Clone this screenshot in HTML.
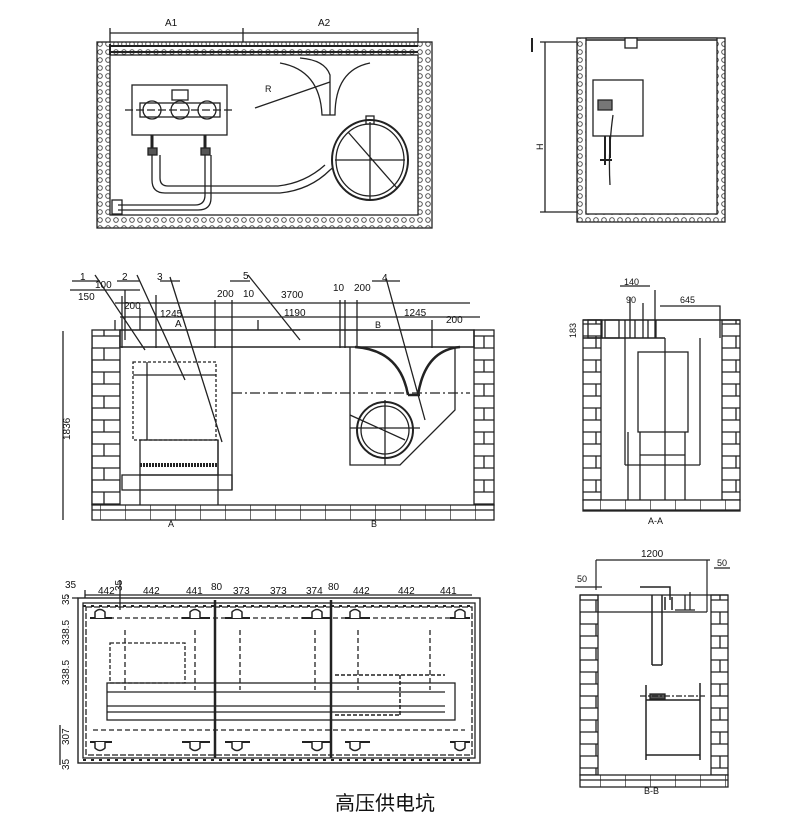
<!DOCTYPE html>
<html><head><meta charset="utf-8"><style>
html,body{margin:0;padding:0;background:#fff;}
svg{display:block;}
text{font-family:"Liberation Sans","Noto Sans CJK SC",sans-serif;fill:#111;}
</style></head><body>
<svg width="800" height="834" viewBox="0 0 800 834" xmlns="http://www.w3.org/2000/svg">
<defs>
<pattern id="dots" width="8" height="8" patternUnits="userSpaceOnUse">
<rect width="8" height="8" fill="#fff"/><circle cx="4" cy="4" r="2.3" fill="none" stroke="#444" stroke-width="0.9"/>
</pattern>
<pattern id="brickV" width="28" height="24" patternUnits="userSpaceOnUse">
<rect width="28" height="24" fill="#fff"/>
<path d="M0 0H28M0 12H28M0 24H28M8 0V12M20 12V24" stroke="#222" stroke-width="1.3" fill="none"/>
</pattern>
<pattern id="brickH" width="25" height="15" patternUnits="userSpaceOnUse">
<rect width="25" height="15" fill="#fff"/>
<path d="M0 0H25M0 15H25M0 0V15" stroke="#222" stroke-width="1.3" fill="none"/>
</pattern>
</defs>
<g stroke="#222" fill="none" stroke-width="1.3">
<!-- ===== top-left plan ===== -->
<path d="M110 33H418M110 28V42M243 28V50M418 28V42" />
<rect x="97" y="42" width="335" height="186" fill="url(#dots)"/>
<rect x="110" y="55" width="308" height="160" fill="#fff"/>
<path d="M110 46H418M110 52H418M110 44V55" stroke-width="2"/>
<rect x="132" y="85" width="95" height="50" fill="#fff"/>
<rect x="172" y="90" width="16" height="10"/>
<path d="M125 110H235" stroke-dasharray="8 3"/>
<circle cx="152" cy="110" r="9"/><circle cx="180" cy="110" r="9"/><circle cx="207" cy="110" r="9"/>
<rect x="140" y="103" width="80" height="14" />
<path d="M152 135V150M205 135V150" stroke-width="3"/>
<rect x="148" y="148" width="9" height="7" fill="#555"/><rect x="201" y="148" width="9" height="7" fill="#555"/>
<path d="M152 155V180Q152 193 165 193H280Q310 190 330 170L345 158M160 155V178Q160 186 168 186H278Q305 183 325 165"/>
<path d="M205 155V195Q205 205 195 205H118M211 155V198Q211 210 198 210H118"/>
<rect x="112" y="200" width="10" height="14"/>
<path d="M280 63Q320 70 322 115H330V75Q325 60 300 58M370 63Q335 70 335 115H328"/>
<path d="M255 108L330 82"/>
<text x="265" y="92" font-size="9" stroke="none">R</text>
<ellipse cx="370" cy="160" rx="38" ry="40" fill="#fff" stroke-width="2"/>
<ellipse cx="370" cy="160" rx="34" ry="36"/>
<path d="M335 160H405M370 122V200M348 132L397 188"/>
<rect x="366" y="116" width="8" height="8"/>
<text x="165" y="26" font-size="10" stroke="none">A1</text>
<text x="318" y="26" font-size="10" stroke="none">A2</text>
<!-- ===== top-right section ===== -->
<path d="M545 42V212M540 42H580M540 212H580"/>
<path d="M532 38V52" stroke-width="2"/>
<text x="543" y="150" font-size="9" stroke="none" transform="rotate(-90 543 150)">H</text>
<rect x="577" y="38" width="148" height="184" fill="url(#dots)"/>
<rect x="586" y="38" width="131" height="176" fill="#fff"/>
<path d="M586 40H717" stroke-width="1.5"/>
<rect x="625" y="38" width="12" height="10" fill="#fff"/>
<rect x="593" y="80" width="50" height="56" fill="#fff"/>
<path d="M598 100H612V110H598Z" fill="#777"/>
<path d="M605 136V165M610 136V158M600 160H612" stroke-width="2"/>
<path d="M613 115Q608 150 610 185" />
<!-- ===== middle-left ===== -->
<path d="M92 348V505M95 290H116M70 290H140M125 290V340" />
<rect x="92" y="330" width="28" height="175" fill="url(#brickV)"/>
<rect x="474" y="330" width="20" height="175" fill="url(#brickV)"/>
<rect x="92" y="505" width="402" height="15" fill="url(#brickH)"/>
<rect x="120" y="330" width="354" height="17" stroke-width="1.5"/>
<path d="M120 317H480M115 303H470M115 320V330" />
<path d="M122 296V348M140 308V330M156 295V348M215 300V348M232 300V348M258 320V330M340 300V348M345 300V348M357 300V348M432 320V348" stroke-width="1.3"/>
<path d="M63 331V520" /><text x="70" y="440" font-size="10" stroke="none" transform="rotate(-90 70 440)">1836</text>
<rect x="133" y="362" width="83" height="78" stroke-dasharray="3 2"/>
<path d="M147 362V440M133 375H216"/>
<rect x="140" y="440" width="78" height="35"/>
<path d="M140 465H218" stroke-dasharray="2 1" stroke-width="4"/>
<rect x="122" y="475" width="110" height="15"/>
<path d="M140 475V505M218 440V505M232 347V490"/>
<path d="M232 393H470" stroke-dasharray="10 3 2 3"/>
<path d="M350 347V465H400L455 410V347"/>
<path d="M355 347Q400 350 408 395M418 395Q425 350 460 347M408 395H420" stroke-width="2.5"/>
<circle cx="385" cy="430" r="28" stroke-width="2"/><circle cx="385" cy="430" r="24"/>
<path d="M350 428H420M385 400V465M350 415L405 440"/>
<path d="M95 275L145 350M137 275L185 380M170 277L222 442M248 275L300 340M386 278L425 420"/>
<path d="M72 281H100M117 281H140M160 281H180M230 281H250M372 281H400"/>
<g stroke="none" font-size="10">
<text x="80" y="280">1</text><text x="122" y="280">2</text><text x="157" y="280">3</text><text x="243" y="279">5</text><text x="382" y="281">4</text>
<text x="95" y="288">100</text><text x="78" y="300">150</text><text x="124" y="309">200</text><text x="160" y="317">1245</text><text x="175" y="327">A</text>
<text x="217" y="297">200</text><text x="243" y="297">10</text><text x="281" y="298">3700</text><text x="284" y="316">1190</text>
<text x="333" y="291">10</text><text x="354" y="291">200</text><text x="404" y="316">1245</text><text x="446" y="323">200</text>
<text x="375" y="328" font-size="9">B</text><text x="168" y="527" font-size="9">A</text><text x="371" y="527" font-size="9">B</text>
</g>
<!-- ===== middle-right A-A ===== -->
<rect x="583" y="320" width="18" height="180" fill="url(#brickV)"/>
<rect x="722" y="320" width="18" height="180" fill="url(#brickV)"/>
<rect x="583" y="500" width="157" height="11" fill="url(#brickH)"/>
<path d="M583 320H740M583 338H665" stroke-width="1.5"/>
<path d="M655 290V338M630 297V338M643 303V338M660 306H720V338M650 286H620"/>
<rect x="588" y="320" width="14" height="18"/><rect x="605" y="320" width="14" height="18"/>
<path d="M625 320V338M635 320V338M648 320V338M656 320V338"/>
<rect x="638" y="352" width="50" height="80"/>
<path d="M625 338V465M700 338V465M625 465H700M640 432V500M685 432V500M640 455H685M628 432V500M665 338V500" />
<g stroke="none" font-size="9">
<text x="624" y="285">140</text><text x="626" y="303">90</text><text x="680" y="303">645</text><text x="576" y="338" transform="rotate(-90 576 338)">183</text>
<text x="648" y="524">A-A</text></g>
<!-- ===== bottom-left plan ===== -->
<rect x="78" y="598" width="402" height="165" stroke-width="1.4"/>
<rect x="83" y="603" width="392" height="155"/>
<rect x="86" y="607" width="386" height="148" stroke-dasharray="6 2"/>
<path d="M83 606H472M83 760H472" stroke-dasharray="3 5" stroke-width="2"/>
<path d="M215 600V758M331 600V758" stroke-width="2.5"/>
<path d="M93 618H465M93 730H465" stroke-dasharray="5 3"/>
<rect x="107" y="683" width="348" height="37"/>
<path d="M107 692H445M107 706H445M107 712H445"/>
<rect x="110" y="643" width="75" height="40" stroke-dasharray="4 2"/>
<path d="M335 675H445M400 675V715M335 715H400" stroke-dasharray="4 2" stroke-width="1.5"/>
<path d="M125 630V690M195 630V690M240 630V690M315 630V690M358 630V690M430 630V690" stroke-dasharray="5 3"/>
<g stroke-width="2">
<path d="M90 618H112M182 618H210M225 618H250M302 618H330M345 618H370M450 618H470M90 742H112M182 742H210M225 742H250M302 742H330M345 742H370M450 742H470"/>
</g>
<g fill="#fff" stroke-width="1.5">
<path d="M95 618V612Q100 607 105 612V618M190 618V612Q195 607 200 612V618M232 618V612Q237 607 242 612V618M312 618V612Q317 607 322 612V618M350 618V612Q355 607 360 612V618M455 618V612Q460 607 465 612V618"/>
<path d="M95 742V748Q100 753 105 748V742M190 742V748Q195 753 200 748V742M232 742V748Q237 753 242 748V742M312 742V748Q317 753 322 748V742M350 742V748Q355 753 360 748V742M455 742V748Q460 753 465 748V742"/>
</g>
<path d="M78 598H72M85 590V598M120 580V610M68 597V595M60 725V765"/>
<path d="M85 595H472" />
<g stroke="none" font-size="10">
<text x="65" y="588">35</text><text x="115" y="584" transform="rotate(-90 122 584)">35</text>
<text x="98" y="594">442</text><text x="143" y="594">442</text><text x="186" y="594">441</text><text x="211" y="590">80</text>
<text x="233" y="594">373</text><text x="270" y="594">373</text><text x="306" y="594">374</text><text x="328" y="590">80</text>
<text x="353" y="594">442</text><text x="398" y="594">442</text><text x="440" y="594">441</text>
<text x="69" y="605" transform="rotate(-90 69 605)">35</text>
<text x="69" y="645" transform="rotate(-90 69 645)">338.5</text>
<text x="69" y="685" transform="rotate(-90 69 685)">338.5</text>
<text x="69" y="745" transform="rotate(-90 69 745)">307</text>
<text x="69" y="770" transform="rotate(-90 69 770)">35</text>
</g>
<!-- ===== bottom-right B-B ===== -->
<rect x="580" y="595" width="18" height="180" fill="url(#brickV)"/>
<rect x="711" y="595" width="17" height="180" fill="url(#brickV)"/>
<rect x="580" y="775" width="148" height="12" fill="url(#brickH)"/>
<path d="M580 595H728M598 612H707M598 595V612M707 560V612M596 560H710M596 560V590M714 568H730M575 587H602" stroke-width="1.2"/>
<path d="M640 587H670V600M652 595V665M662 595V665M652 665H662M665 597V610M672 597V610" stroke-width="1.5"/>
<path d="M685 595V610M690 592V610M675 610H695"/>
<path d="M646 685V760M700 683V760M646 700H700M646 755H700" stroke-width="1.5"/>
<rect x="650" y="694" width="15" height="5" fill="#555"/>
<path d="M640 696H705" stroke-dasharray="6 2 2 2"/>
<g stroke="none" font-size="9">
<text x="641" y="557" font-size="10">1200</text><text x="717" y="566">50</text><text x="577" y="582">50</text>
<text x="644" y="794">B-B</text></g>
</g>
<text x="335" y="810" font-size="20" fill="#333" stroke="none" font-family="'Noto Sans CJK SC','WenQuanYi Zen Hei',sans-serif">高压供电坑</text>
</svg>
</body></html>
